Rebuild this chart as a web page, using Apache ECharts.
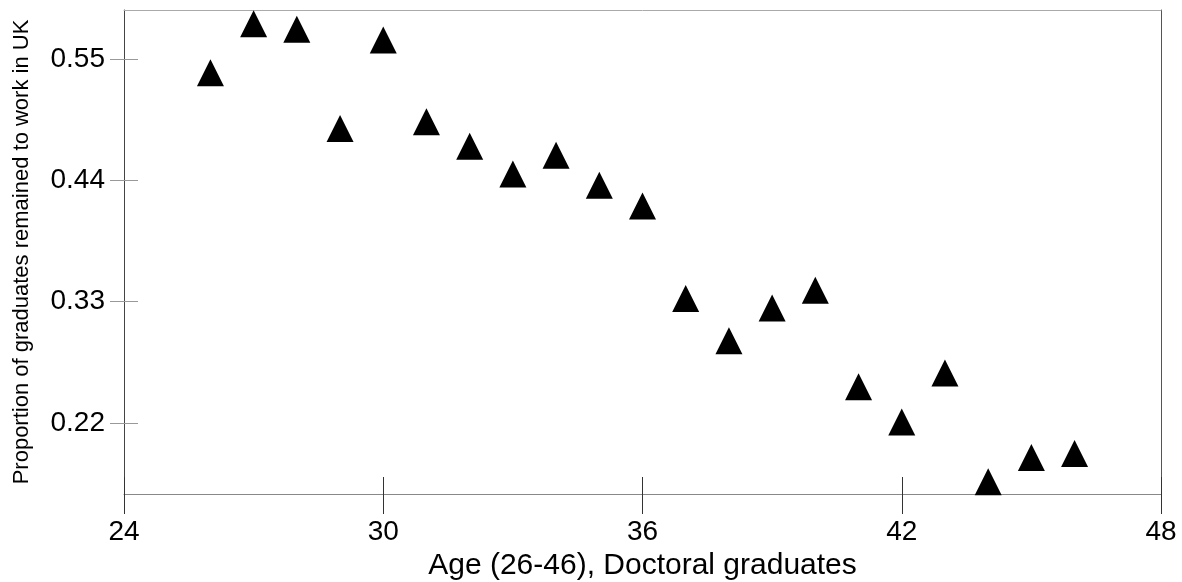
<!DOCTYPE html>
<html>
<head>
<meta charset="utf-8">
<script src="https://cdn.jsdelivr.net/npm/echarts@6/dist/echarts.min.js"></script>
<style>
html,body{margin:0;padding:0;background:#fff;}
#chart{width:1182px;height:582px;}
</style>
</head>
<body>
<div id="chart"></div>
<script>
const ages = [26,27,28,29,30,31,32,33,34,35,36,37,38,39,40,41,42,43,44,45,46];
const proportions = [0.5376,0.5819,0.5769,0.4870,0.5672,0.4931,0.4708,0.4457,0.4627,0.4355,0.4167,0.3328,0.2945,0.3242,0.3403,0.2528,0.2209,0.2654,0.1666,0.1887,0.1924];
const xTicks = [24,30,36,42,48];
const yTicks = [0.22,0.33,0.44,0.55];
const xTitle = 'Age (26-46), Doctoral graduates';
const yTitle = 'Proportion of graduates remained to work in UK';

const X_MIN = 24, X_MAX = 48, Y_MIN = 0.1556, Y_MAX = 0.5944;
const FONT = 'Liberation Sans, Arial, sans-serif';

const chart = echarts.init(document.getElementById('chart'), null, {renderer:'canvas'});
const points = ages.map((a,i)=>[a, proportions[i]]);

const baseX = {type:'value', min:X_MIN, max:X_MAX, interval:6, splitLine:{show:false}};
const baseY = {type:'value', min:Y_MIN, max:Y_MAX, splitLine:{show:false}};

chart.setOption({
  animation:false,
  backgroundColor:'#fff',
  grid:{left:124, right:21, top:10, bottom:88, containLabel:false, outerBoundsMode:'none'},
  xAxis:[
    Object.assign({}, baseX, {
      position:'bottom',
      axisLine:{show:true, lineStyle:{color:'#888', width:1}},
      axisTick:{show:true, inside:false, length:20, lineStyle:{color:'#333', width:1}, customValues:xTicks},
      axisLabel:{show:true, customValues:xTicks, fontSize:28, color:'#000', fontFamily:FONT, margin:24},
      name:xTitle, nameLocation:'middle', nameGap:57,
      nameTextStyle:{fontSize:30, color:'#000', fontFamily:FONT}
    }),
    Object.assign({}, baseX, {
      position:'bottom',
      axisLine:{show:false},
      axisTick:{show:true, inside:true, length:17, lineStyle:{color:'#333', width:1}, customValues:xTicks},
      axisLabel:{show:false}
    }),
    Object.assign({}, baseX, {
      position:'top',
      axisLine:{show:true, lineStyle:{color:'#aaa', width:1}},
      axisTick:{show:false}, axisLabel:{show:false}
    })
  ],
  yAxis:[
    Object.assign({}, baseY, {
      position:'left',
      axisLine:{show:true, lineStyle:{color:'#444', width:1}},
      axisTick:{show:true, inside:false, length:14, lineStyle:{color:'#999', width:1}, customValues:yTicks},
      axisLabel:{show:true, customValues:yTicks, fontSize:28, color:'#000', fontFamily:FONT, margin:19,
        formatter:v=>Number(v).toFixed(2)},
      name:yTitle, nameLocation:'middle', nameGap:91, nameRotate:90,
      nameTextStyle:{fontSize:22, color:'#000', fontFamily:FONT}
    }),
    Object.assign({}, baseY, {
      position:'left',
      axisLine:{show:false},
      axisTick:{show:true, inside:true, length:14, lineStyle:{color:'#999', width:1}, customValues:yTicks},
      axisLabel:{show:false}
    }),
    Object.assign({}, baseY, {
      position:'right',
      axisLine:{show:true, lineStyle:{color:'#555', width:1}},
      axisTick:{show:false}, axisLabel:{show:false}
    })
  ],
  series:[{
    type:'scatter',
    xAxisIndex:0, yAxisIndex:0,
    data:points,
    symbol:'triangle',
    symbolSize:27,
    itemStyle:{color:'#000', opacity:1},
    clip:false
  }]
});
</script>
</body>
</html>
